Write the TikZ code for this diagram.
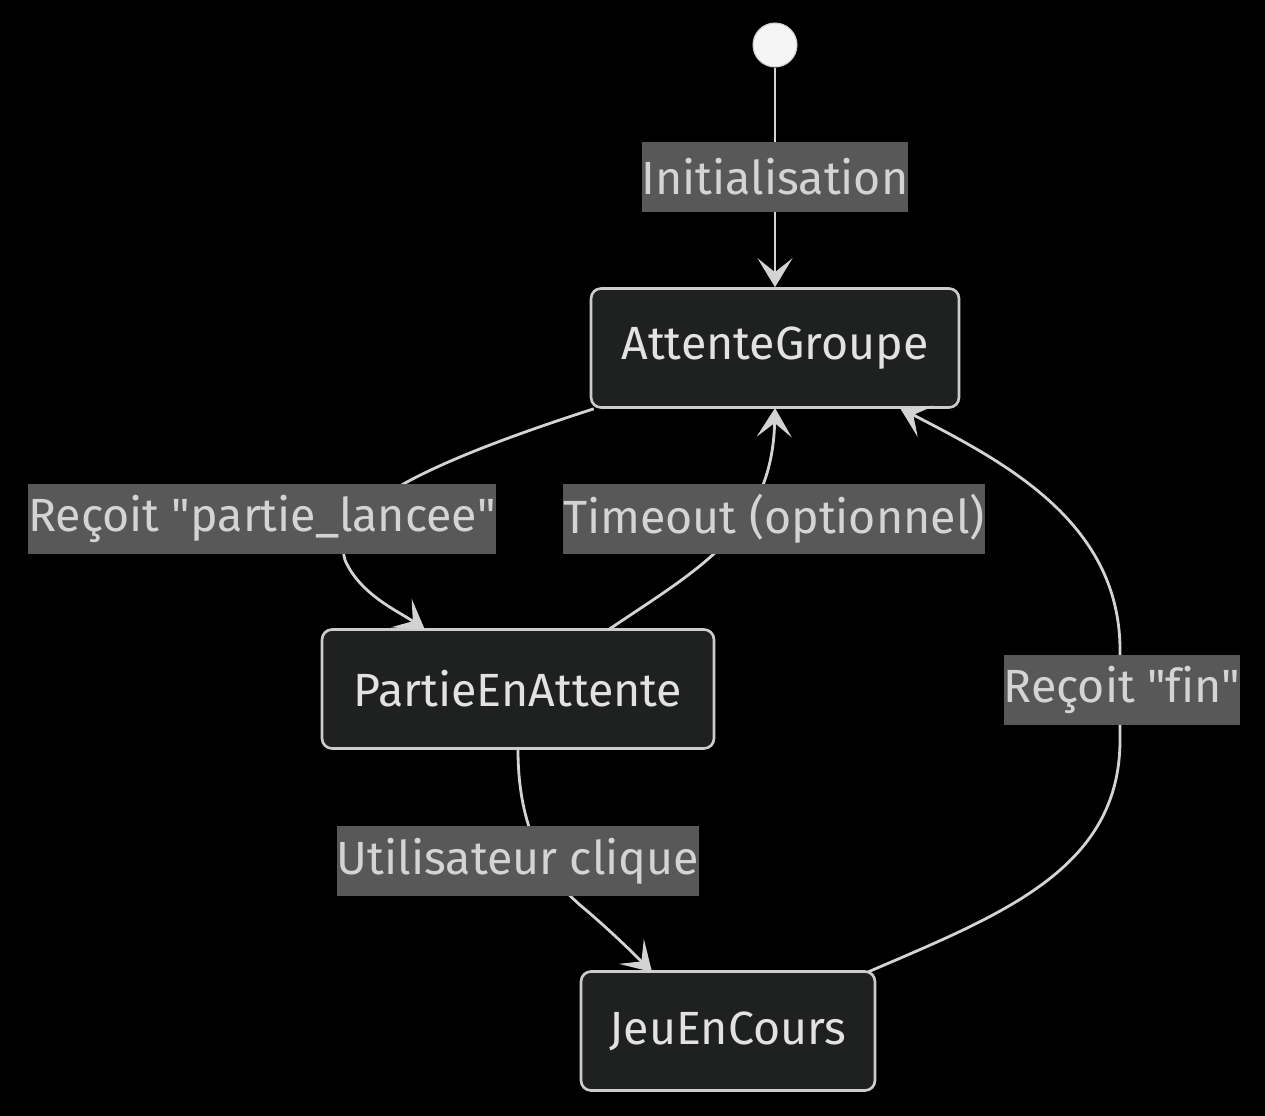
\documentclass[tikz,border=0pt]{standalone}
\usepackage{fontspec}
\setmainfont[Ligatures={NoCommon}]{Fira Sans}
\usetikzlibrary{arrows.meta}
\definecolor{fond}{HTML}{000000}
\definecolor{etatfond}{HTML}{1F2020}
\definecolor{etatbord}{HTML}{CCCCCC}
\definecolor{trait}{HTML}{D3D3D3}
\definecolor{etiqfond}{HTML}{585858}
\definecolor{etiqtexte}{HTML}{D4D4D4}
\definecolor{etattexte}{HTML}{E2E2E2}
\newcommand{\qt}{\textquotedbl}
\tikzset{
  etat/.style={draw=etatbord,fill=etatfond,line width=1.5pt,rounded corners=0.2cm,
    text=etattexte,minimum height=2.38cm,inner xsep=0.2cm,font=\fontsize{26.5}{30}\selectfont},
  etiq/.style={fill=etiqfond,text=etiqtexte,inner sep=0pt,minimum height=1.4cm,
    font=\fontsize{26.5}{30}\selectfont},
  fleche/.style={draw=trait,line width=1.6pt,-{Stealth[length=0.58cm,width=0.7cm,inset=0.28cm]}}
}
\begin{document}
\begin{tikzpicture}[x=0.02cm,y=-0.02cm]
	\fill[fond] (0,0) rectangle (1265,1116);
	\useasboundingbox (0,0) rectangle (1265,1116);
	%Depart
	\node[circle,fill=white!96!black,draw=etatbord,line width=0.6pt,minimum size=0.88cm,inner sep=0pt] (debut) at (775,45) {};
	%Etats
	\node[etat,minimum width=7.36cm] (attente) at (775,348) {AttenteGroupe};
	\node[etat,minimum width=7.84cm] (partie) at (518,689) {PartieEnAttente};
	\node[etat,minimum width=5.88cm] (jeu) at (728,1031) {JeuEnCours};
	%Fleches
	\draw[fleche] (debut) -- (attente);
	\draw[fleche] ([xshift=0.08cm]attente.south west) .. controls (420,465) and (330,510) .. (345,560)
		.. controls (360,595) and (400,612) .. (425,630);
	\draw[fleche] (608,630) .. controls (700,568) and (772,530) .. (775,408);
	\draw[fleche] (partie.south) .. controls (518,820) and (540,870) .. (580,905)
		.. controls (610,930) and (635,955) .. (652,972);
	\draw[fleche] (868,972) .. controls (1000,915) and (1120,870) .. (1120,740) -- (1120,650)
		.. controls (1120,520) and (1000,460) .. (900,408);
	%Etiquettes
	\node[etiq] (lbinit) at (775,177) {Initialisation};
	\node[etiq] (lblance) at (262,519) {Reçoit \qt partie\_lancee\qt};
	\node[etiq] (lbtimeout) at (774,519) {Timeout (optionnel)};
	\node[etiq] (lbfin) at (1122,690) {Reçoit \qt fin\qt};
	\node[etiq] (lbclic) at (518,861) {Utilisateur clique};
\end{tikzpicture}
\end{document}
